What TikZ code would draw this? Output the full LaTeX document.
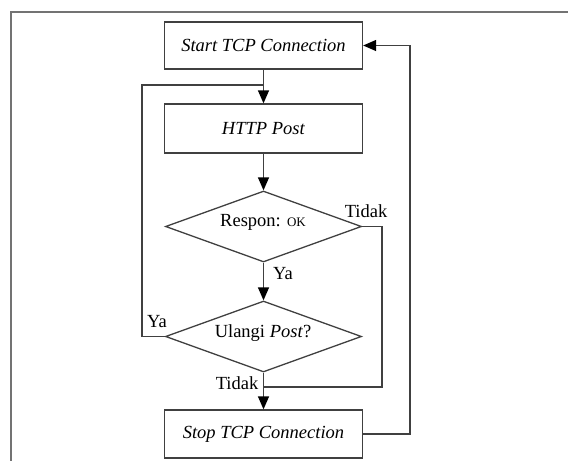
\documentclass[tikz,border=0pt]{standalone}
\usepackage{fontspec}
\setmainfont{Liberation Serif}
\usetikzlibrary{shapes.geometric,arrows.meta}
\begin{document}
\begin{tikzpicture}[x=1pt,y=-1pt,
  font=\fontsize{18.5}{22}\selectfont,
  line/.style={draw=black!75, line width=1.3pt},
  flow/.style={line, -{Triangle[length=13pt,width=11pt,color=black]}},
  procbox/.style={line, rectangle, minimum width=198pt, inner sep=0pt},
  decision/.style={line, diamond, minimum width=196pt, minimum height=71pt, inner sep=0pt, aspect=2.76},
  tag/.style={inner sep=0pt}]
\useasboundingbox (0,0) rectangle (568,461);
% outer frame
\draw[black!55, line width=1.5pt] (568,12) -- (11,12) -- (11,461);

\node[procbox, minimum height=47pt] (start) at (263.5,45.5) {\textit{Start TCP Connection}};
\node[procbox, minimum height=49pt] (http) at (263.5,128.5) {\textit{HTTP Post}};
\node[decision] (d1) at (263.5,226.5) {};
\node[tag] at (263,222) {Respon: {\fontsize{13}{15}\selectfont OK}};
\node[decision] (d2) at (263.5,336.5) {};
\node[tag] at (263,333) {Ulangi \textit{Post}?};
\node[procbox, minimum height=48pt] (stop) at (263.5,434) {\textit{Stop TCP Connection}};

\coordinate (j1) at (263.5,85);
\coordinate (j2) at (263.5,387);

\draw[flow] (start.south) -- (http.north);
\draw[flow] (http.south) -- (d1.north);
\draw[flow] (d1.south) -- (d2.north);
\draw[flow] (d2.south) -- (stop.north);
\draw[line] (d1.east) -- (382,226.5) |- (j2);
\draw[line] (d2.west) -- (142,336.5) |- (j1);
\draw[flow] (stop.east) -- (410,434) |- (start.east);

\node[tag] at (366,211) {Tidak};
\node[tag] at (283,274) {Ya};
\node[tag] at (157,322) {Ya};
\node[tag] at (237,383) {Tidak};
\end{tikzpicture}
\end{document}
